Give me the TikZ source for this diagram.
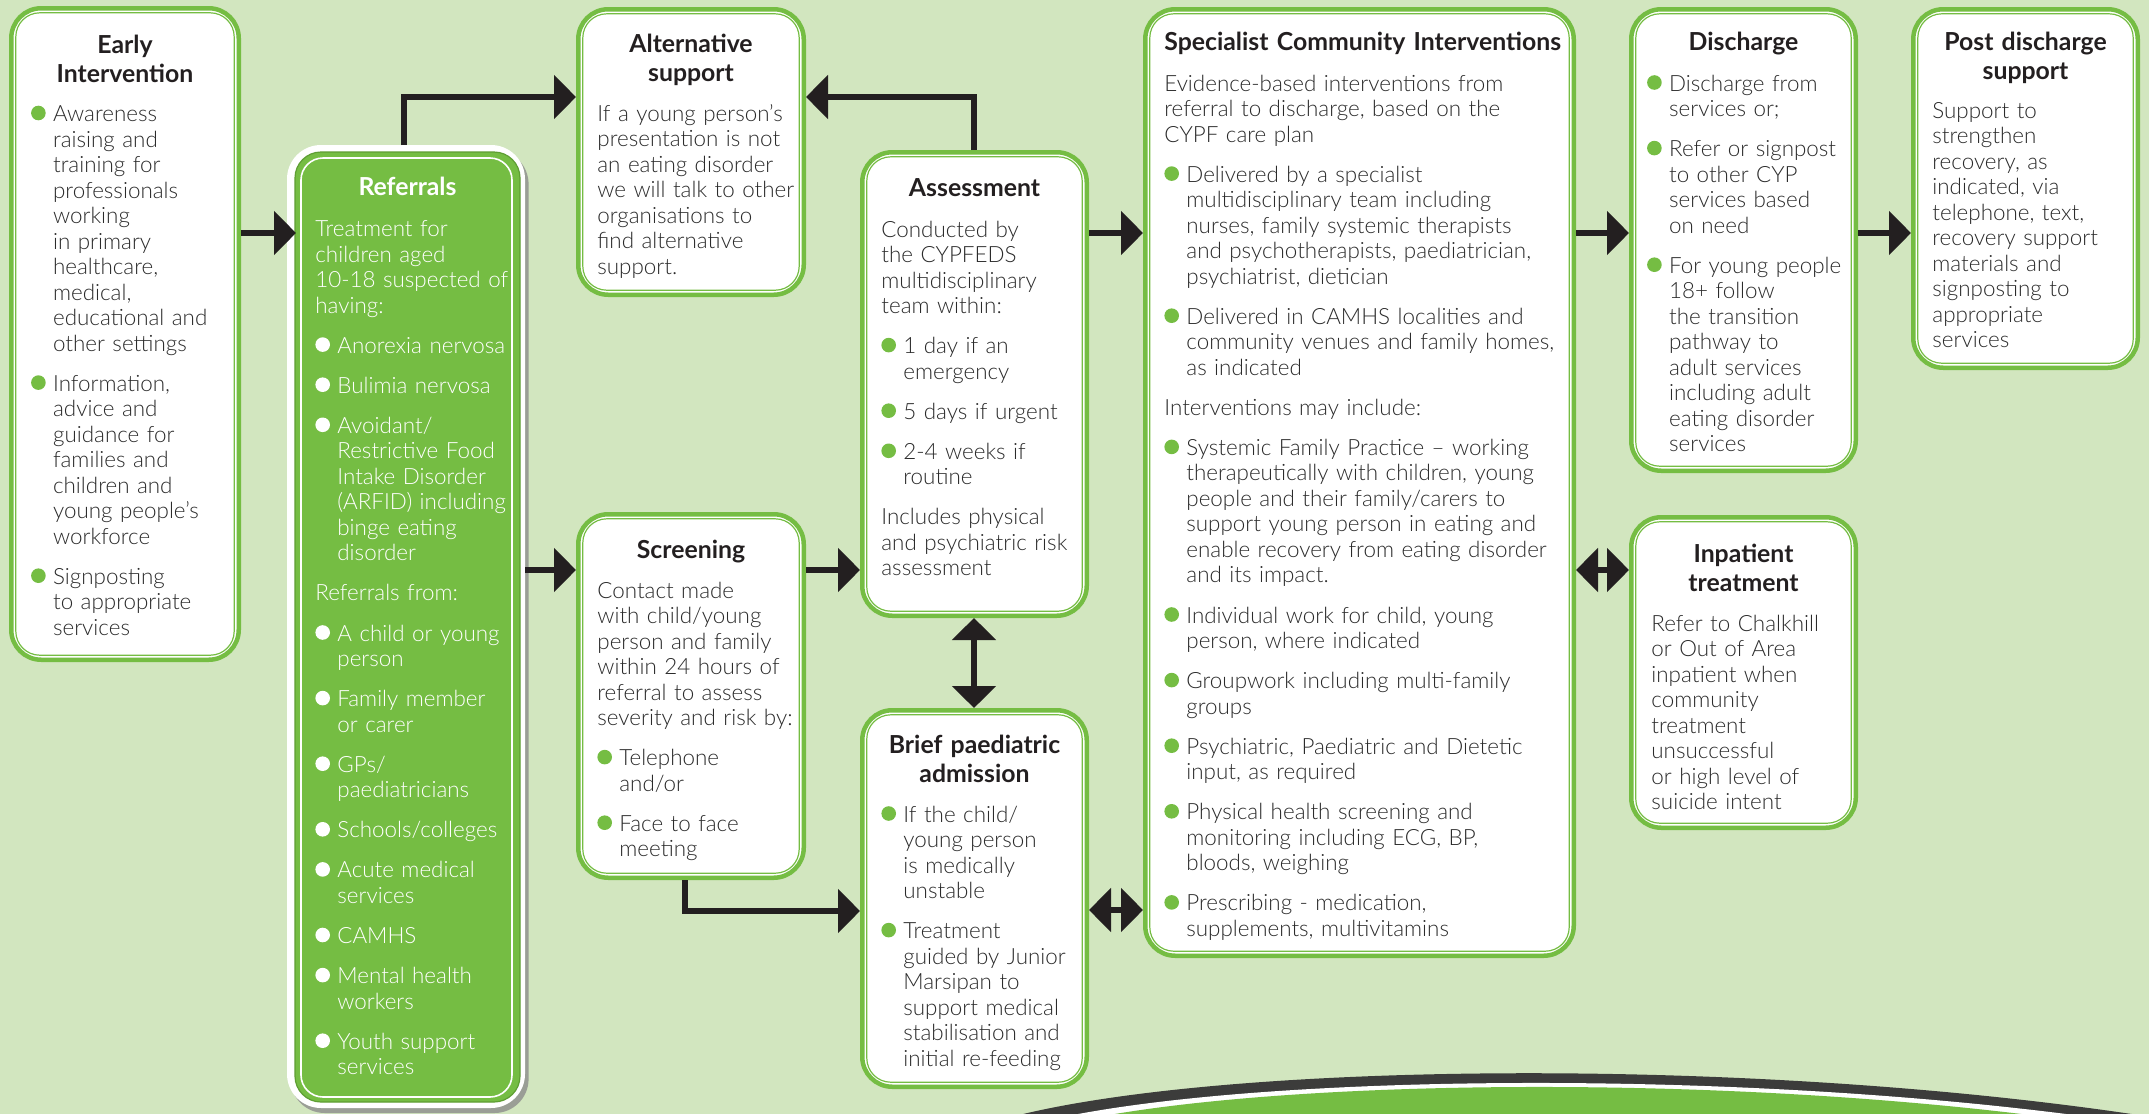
\documentclass[tikz,border=0pt]{standalone}
\usepackage{fontspec}
\setmainfont{Lato}
\newfontfamily\lightfont{Lato}[UprightFont=* Light]
\usetikzlibrary{arrows.meta,calc,shadows}
\definecolor{bg}{HTML}{D2E6BF}
\definecolor{gr}{HTML}{75BD43}
\definecolor{grd}{HTML}{5E9E33}
\definecolor{ink}{HTML}{231F20}
\definecolor{txt}{HTML}{2B2B2B}
\definecolor{swd}{HTML}{3C3C3B}
\newlength\bind
\setlength\bind{11pt}
\newcommand\bdot[1]{\tikz[baseline=0pt]\fill[#1] (0,4.25pt) circle (3.65pt);}
\newcommand\gitem[1]{\hangindent=\bind\hangafter=1\noindent\makebox[\bind][l]{\bdot{gr}}#1\par}
\newcommand\witem[1]{\hangindent=\bind\hangafter=1\noindent\makebox[\bind][l]{\bdot{white}}#1\par}
\newcommand\ps{\setlength\parskip{7.3pt}\let\\\newline}
\tikzset{
 gbox/.style={draw=gr, line width=2.25pt, fill=white, rounded corners=15pt, inner sep=0pt},
 inbox/.style={draw=gr, line width=0.6pt, rounded corners=12pt},
 ttl/.style={font=\fontsize{12.4}{14.5}\selectfont\bfseries, text=ink, align=center, inner sep=0pt, anchor=base, text width=112pt},
 body/.style={font=\lightfont\fontsize{11.2}{12.75}\selectfont, text=txt, align=left, inner sep=0pt, anchor=base west},
 arr/.style={draw=ink, line width=3pt, -{Triangle[length=11pt,width=21.5pt]}},
 darr/.style={draw=ink, line width=3pt, {Triangle[length=11pt,width=21.5pt]}-{Triangle[length=11pt,width=21.5pt]}},
}
\newcommand\gbox[5]{%
 \node[gbox, minimum width={(#4-#2-4.5)*0.5pt}, minimum height={(#5-#3-4.5)*0.5pt}] (#1) at ({(#2+#4)/2},{(#3+#5)/2}) {};
 \draw[inbox] ($(#1.north west)+(6.8,6.8)$) rectangle ($(#1.south east)+(-6.8,-6.8)$);}
\begin{document}
\begin{tikzpicture}[x=0.5pt,y=-0.5pt]
\useasboundingbox (0,0) rectangle (2149,1114);
\fill[bg] (0,0) rectangle (2149,1114);
% swoosh
\begin{scope}
\clip (0,0) rectangle (2149,1114);
\fill[swd] (1015,1116) .. controls (1230,1062) and (1750,1056) .. (2145,1116) -- cycle;
\fill[white] (1040,1122) .. controls (1245,1073) and (1750,1067) .. (2125,1122) -- cycle;
\fill[gr] (1055,1126) .. controls (1255,1077) and (1750,1071) .. (2110,1126) -- cycle;
\end{scope}
% boxes
\gbox{early}{9}{6}{241}{662}
\gbox{alt}{576}{7}{806}{297}
\gbox{assess}{860}{150}{1089}{618}
\gbox{screen}{576}{512}{806}{880}
\gbox{brief}{860}{708}{1089}{1089}
\gbox{spec}{1143}{7}{1576}{958}
\gbox{disch}{1629}{7}{1858}{473}
\gbox{inpat}{1629}{515}{1858}{830}
\gbox{post}{1911}{7}{2140}{370}
% referrals
\node[fill=white, rounded corners=17pt, inner sep=0pt, outer sep=0pt, minimum width=119pt, minimum height=481.5pt,
 drop shadow={shadow xshift=1.8pt, shadow yshift=-2.5pt, fill=black!45, opacity=0.8}] (refer) at (406,626.5) {};
\draw[fill=gr, draw=grd, line width=0.6pt, rounded corners=13pt] ($(refer.north west)+(8,7)$) rectangle ($(refer.south east)+(-5,-6)$);
\draw[white, line width=0.8pt, rounded corners=11pt] ($(refer.north west)+(14,13)$) rectangle ($(refer.south east)+(-13,-11)$);
% connectors
\draw[arr] ($(early.north east)+(0,227)$) -- ($(refer.north west)+(9,88)$);
\draw[arr] ($(refer.north west)+(117,0)$) |- ($(alt.north west)+(0,90)$);
\draw[arr] ($(assess.north west)+(114,0)$) |- ($(alt.north east)+(0,90)$);
\draw[arr] ($(refer.north east)+(0,425)$) -- ($(screen.north west)+(0,58)$);
\draw[arr] ($(screen.north east)+(0,58)$) -- ($(assess.north west)+(0,420)$);
\draw[darr] ($(assess.south west)+(114,0)$) -- ($(brief.north west)+(114,0)$);
\draw[arr] ($(screen.south west)+(109,0)$) |- ($(brief.north west)+(0,203)$);
\draw[darr] ($(brief.north east)+(0,202)$) -- ($(spec.north west)+(0,903)$);
\draw[arr] ($(assess.north east)+(0,83)$) -- ($(spec.north west)+(0,226)$);
\draw[arr] ($(spec.north east)+(0,226)$) -- ($(disch.north west)+(0,226)$);
\draw[arr] ($(disch.north east)+(0,226)$) -- ($(post.north west)+(0,226)$);
\draw[darr] ($(spec.north east)+(0,563)$) -- ($(inpat.north west)+(0,55)$);
% titles
\node[ttl] (eT) at (125,53) {Early\\Intervention};
\node[ttl, text=white] (rT) at (407.5,195) {Referrals};
\node[ttl] (aT) at (691,52) {Alternative\\support};
\node[ttl] (asT) at (974.5,196) {Assessment};
\node[ttl] (scT) at (691,558) {Screening};
\node[ttl] (bT) at (974.5,753) {Brief paediatric\\admission};
\node[ttl, anchor=base west, align=left, text width=220pt] (spT) at (1164,50) {Specialist Community Interventions};
\node[ttl] (dT) at (1743.5,50) {Discharge};
\node[ttl] (pT) at (2025.5,50) {Post discharge\\support};
\node[ttl] (iT) at (1743.5,562) {Inpatient\\treatment};
% bodies
\node[body, text width=115pt] (eB) at (30.7,121.5) {\ps\gitem{Awareness\\raising and\\training for\\professionals\\working\\in primary\\healthcare,\\medical,\\educational and\\other settings}\gitem{Information,\\advice and\\guidance for\\families and\\children and\\young people’s\\workforce}\gitem{Signposting\\to appropriate\\services}};
\node[body, text width=112pt, text=white] (rB) at (315,236.5) {\ps Treatment for\\children aged\\10-18 suspected of\\having:\par\witem{Anorexia nervosa}\witem{Bulimia nervosa}\witem{Avoidant/\\Restrictive Food\\Intake Disorder\\(ARFID) including\\binge eating\\disorder}Referrals from:\par\witem{A child or young\\person}\witem{Family member\\or carer}\witem{GPs/\\paediatricians}\witem{Schools/colleges}\witem{Acute medical\\services}\witem{CAMHS}\witem{Mental health\\workers}\witem{Youth support\\services}};
\node[body, text width=112pt] (aB) at (597,121) {\ps If a young person’s\\presentation is not\\an eating disorder\\we will talk to other\\organisations to\\find alternative\\support.};
\node[body, text width=112pt] (asB) at (881,237) {\ps Conducted by\\the CYPFEDS\\multidisciplinary\\team within:\par\gitem{1 day if an\\emergency}\gitem{5 days if urgent}\gitem{2-4 weeks if\\routine}Includes physical\\and psychiatric risk\\assessment};
\node[body, text width=112pt] (scB) at (597,598) {\ps Contact made\\with child/young\\person and family\\within 24 hours of\\referral to assess\\severity and risk by:\par\gitem{Telephone\\and/or}\gitem{Face to face\\meeting}};
\node[body, text width=112pt] (bB) at (881,822) {\ps\gitem{If the child/\\young person\\is medically\\unstable}\gitem{Treatment\\guided by Junior\\Marsipan to\\support medical\\stabilisation and\\initial re-feeding}};
\node[body, text width=215pt] (spB) at (1164,91) {\ps Evidence-based interventions from\\referral to discharge, based on the\\CYPF care plan\par\gitem{Delivered by a specialist\\multidisciplinary team including\\nurses, family systemic therapists\\and psychotherapists, paediatrician,\\psychiatrist, dietician}\gitem{Delivered in CAMHS localities and\\community venues and family homes,\\as indicated}Interventions may include:\par\gitem{Systemic Family Practice – working\\therapeutically with children, young\\people and their family/carers to\\support young person in eating and\\enable recovery from eating disorder\\and its impact.}\gitem{Individual work for child, young\\person, where indicated}\gitem{Groupwork including multi-family\\groups}\gitem{Psychiatric, Paediatric and Dietetic\\input, as required}\gitem{Physical health screening and\\monitoring including ECG, BP,\\bloods, weighing}\gitem{Prescribing - medication,\\supplements, multivitamins}};
\node[body, text width=112pt] (dB) at (1646.7,91) {\ps\gitem{Discharge from\\services or;}\gitem{Refer or signpost\\to other CYP\\services based\\on need}\gitem{For young people\\18+ follow\\the transition\\pathway to\\adult services\\including adult\\eating disorder\\services}};
\node[body, text width=112pt] (pB) at (1932,118) {\ps Support to\\strengthen\\recovery, as\\indicated, via\\telephone, text,\\recovery support\\materials and\\signposting to\\appropriate\\services};
\node[body, text width=112pt] (iB) at (1651,631) {\ps Refer to Chalkhill\\or Out of Area\\inpatient when\\community\\treatment\\unsuccessful\\or high level of\\suicide intent};
\end{tikzpicture}
\end{document}
